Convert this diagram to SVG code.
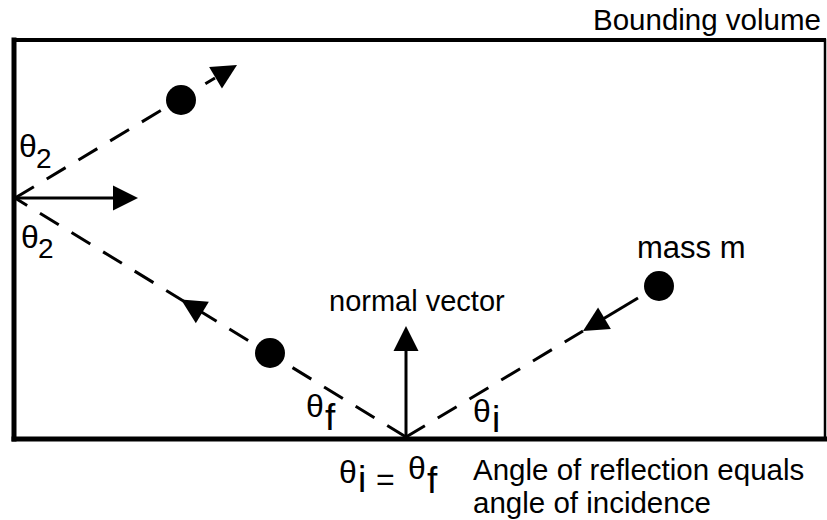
<svg xmlns="http://www.w3.org/2000/svg" xmlns:xlink="http://www.w3.org/1999/xlink" width="827" height="520" viewBox="0 0 827 520">
<style>
text{font-family:"Liberation Sans",Arial,sans-serif;fill:#000}
.lbl{font-size:29.5px}
.th{font-size:32px}
.two{font-size:28px}
.sub{font-size:37px}
.dash{stroke:#000;stroke-width:3;stroke-dasharray:22 15;fill:none}
.solid{stroke:#000;stroke-width:3;fill:none}
.wall{stroke:#000;fill:none;stroke-linecap:square}
.ball{fill:#000}
</style>
<defs>
<path id="ah" d="M0,0 L-25,-12.5 L-25,12.5 Z" fill="#000"/>
</defs>
<rect width="827" height="520" fill="#fff"/>
<g id="bounding-volume">
<line class="wall" x1="14" y1="40" x2="824" y2="40" stroke-width="4"/>
<line class="wall" x1="14" y1="40" x2="14" y2="439" stroke-width="5"/>
<line class="wall" x1="825" y1="40" x2="825" y2="439" stroke-width="2.5"/>
<line class="wall" x1="14" y1="439" x2="825" y2="439" stroke-width="5"/>
<text class="lbl" x="593" y="30">Bounding volume</text>
</g>
<g id="connectors">
<line class="dash" x1="406" y1="437" x2="583" y2="331"/>
<line class="solid" x1="603" y1="319" x2="638" y2="298" stroke-width="5"/>
<use xlink:href="#ah" transform="translate(583,331) rotate(149.2)"/>
<line class="dash" x1="406" y1="437" x2="15" y2="198"/>
<use xlink:href="#ah" transform="translate(181,299.5) rotate(211.4)"/>
<line class="dash" x1="15" y1="198" x2="215" y2="78"/>
<use xlink:href="#ah" transform="translate(237,65) rotate(-30.9)"/>
<line class="solid" x1="15" y1="198" x2="114" y2="198"/>
<use xlink:href="#ah" transform="translate(138,198) rotate(0)"/>
<line class="solid" x1="406" y1="437" x2="406" y2="350"/>
<use xlink:href="#ah" transform="translate(406,326) rotate(-90)"/>
</g>
<g id="mass-incoming">
<circle class="ball" cx="659" cy="286" r="15"/>
<text class="lbl" x="637" y="258" style="font-size:31px">mass m</text>
</g>
<g id="mass-reflected">
<circle class="ball" cx="270" cy="353" r="15"/>
</g>
<g id="mass-second">
<circle class="ball" cx="181" cy="100" r="15"/>
</g>
<g id="normal-label">
<text class="lbl" x="329" y="311" style="font-size:29px">normal vector</text>
</g>
<g id="angle-labels">
<text x="19" y="157"><tspan class="th">θ</tspan><tspan class="two" x="36" y="168">2</tspan></text>
<text x="21" y="248"><tspan class="th">θ</tspan><tspan class="two" x="38" y="258">2</tspan></text>
<text x="306" y="417"><tspan class="th">θ</tspan><tspan class="sub" x="325" y="430">f</tspan></text>
<text x="473" y="422"><tspan class="th">θ</tspan><tspan class="sub" x="492" y="432">i</tspan></text>
</g>
<g id="equation">
<text x="339" y="483"><tspan class="th">θ</tspan><tspan class="sub" x="358" y="492">i</tspan><tspan class="th" x="376" y="490">=</tspan><tspan class="th" x="408" y="479">θ</tspan><tspan class="sub" x="427" y="493">f</tspan></text>
<text class="lbl" x="473" y="480">Angle of reflection equals</text>
<text class="lbl" x="473" y="513">angle of incidence</text>
</g>
</svg>
